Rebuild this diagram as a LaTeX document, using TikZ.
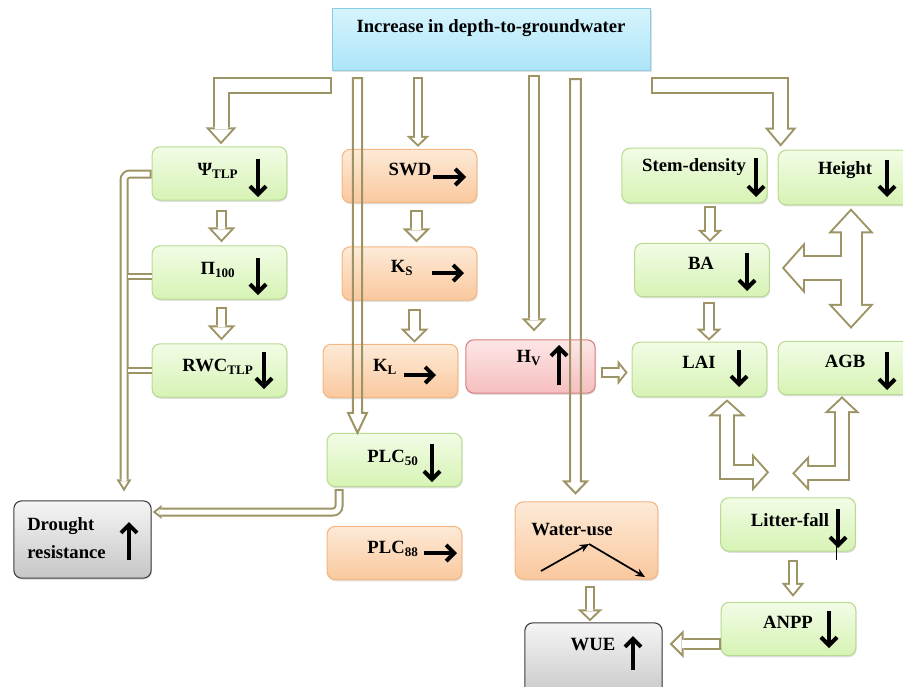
\documentclass[tikz,border=0pt]{standalone}
\usepackage{fontspec}
\setmainfont{Liberation Serif}
\usetikzlibrary{arrows.meta, calc, shadows, positioning}

\definecolor{acol}{RGB}{156,148,100}
\definecolor{gtop}{RGB}{242,252,230}
\definecolor{gbot}{RGB}{214,243,180}
\definecolor{gline}{RGB}{185,218,145}
\definecolor{otop}{RGB}{253,234,215}
\definecolor{obot}{RGB}{250,200,158}
\definecolor{oline}{RGB}{245,182,130}
\definecolor{ptop}{RGB}{253,230,230}
\definecolor{pbot}{RGB}{246,190,190}
\definecolor{pline}{RGB}{214,128,128}
\definecolor{ytop}{RGB}{245,245,245}
\definecolor{ybot}{RGB}{198,198,198}
\definecolor{yline}{RGB}{60,60,60}
\definecolor{btop}{RGB}{214,244,253}
\definecolor{bbot}{RGB}{172,229,248}
\definecolor{bline}{RGB}{140,205,230}

\def\hbw{1.5}
\tikzset{
  box/.style={rounded corners=6pt, minimum width=101pt, minimum height=40pt, inner sep=0pt, line width=0.8pt,
    drop shadow={shadow xshift=0.6pt, shadow yshift=-1.2pt, opacity=0.25}},
  gbox/.style={box, draw=gline, top color=gtop, bottom color=gbot},
  obox/.style={box, draw=oline, top color=otop, bottom color=obot},
  pbox/.style={box, draw=pline, top color=ptop, bottom color=pbot},
  ybox/.style={box, draw=yline, top color=ytop, bottom color=ybot},
  bbox/.style={box, rounded corners=0pt, draw=bline, top color=btop, bottom color=bbot},
  lbl/.style={font=\bfseries\fontsize{14}{16}\selectfont, inner sep=0pt},
  % hollow arrows: shaft, head length, head width (px)
  hset/.code n args={3}{%
    \pgfmathsetlengthmacro\hsw{0.75*#1}%
    \pgfmathsetlengthmacro\hhl{0.75*#2}%
    \pgfmathsetlengthmacro\hhw{0.75*#3}%
    \pgfmathsetlengthmacro\hsi{\hsw-2*\hbw}%
    \pgfmathsetlengthmacro\hd{\hbw/sin(atan(\hhw/(2*\hhl)))}%
    \pgfmathsetlengthmacro\hli{\hhl-\hbw-\hd}%
    \pgfmathsetlengthmacro\hwi{\hli*\hhw/\hhl}%
  },
  hout/.style={draw=acol, line width=\hsw, line join=miter,
    -{Triangle[length=\hhl, width=\hhw, line width=0pt]}},
  hin/.style={draw=white, line width=\hsi, line join=miter, shorten <=\hbw pt, shorten >=\hd,
    -{Triangle[length=\hli, width=\hwi, line width=0pt]}},
  houtd/.style={hout, {Triangle[length=\hhl, width=\hhw, line width=0pt]}-{Triangle[length=\hhl, width=\hhw, line width=0pt]}},
  hind/.style={hin, shorten <=\hd, {Triangle[length=\hli, width=\hwi, line width=0pt]}-{Triangle[length=\hli, width=\hwi, line width=0pt]}},
  harrow/.style n args={3}{hset={#1}{#2}{#3}, hout, postaction={hin}},
  harrows/.style n args={3}{hset={#1}{#2}{#3}, houtd, postaction={hind}},
  hbar/.style={hset={#1}{10}{10}, draw=acol, line width=\hsw, postaction={draw=white, line width=\hsi}},
  barline/.style={draw=acol, line width=1.5pt, line join=miter},
  % black trend arrows
  blk/.style={line width=3pt, -{Straight Barb[length=6pt, width=12pt]}},
  thinarr/.style={line width=1.3pt, -{Stealth[length=7pt, width=6pt]}},
}

\begin{document}
\begin{tikzpicture}[x=0.75pt, y=-0.75pt]
\clip (0,0) rectangle (903,686);

% Boxes
\node[bbox, minimum width=239pt, minimum height=46pt] (top) at (491.5,39.5) {};
\node[gbox] (psi) at (219.5,173.5) {};
\node[gbox] (pihun) at (219.5,272.5) {};
\node[gbox] (rwc) at (219.5,370.5) {};
\node[obox] (swd) at (409.5,176) {};
\node[obox] (ks) at (409.5,273.5) {};
\node[obox] (kl) at (390.5,371) {};
\node[pbox, minimum width=97pt] (hv) at (530.5,366.5) {};
\node[gbox] (plc50) at (394.5,460) {};
\node[obox] (plc88) at (394.5,553) {};
\node[ybox, minimum width=103pt, minimum height=58pt] (drought) at (82.5,539.5) {};
\node[obox, minimum width=107pt, minimum height=58pt] (wateruse) at (586.5,540.5) {};
\node[ybox, minimum width=103pt, minimum height=58pt] (wue) at (593.5,661.5) {};
\node[gbox, minimum width=109pt, minimum height=41pt] (stem) at (694.5,175.5) {};
\node[gbox, minimum height=41pt] (height) at (845.5,177.5) {};
\node[gbox] (ba) at (702,270) {};
\node[gbox, minimum height=41pt] (lai) at (699.5,369.5) {};
\node[gbox] (agb) at (845.5,368) {};
\node[gbox] (litter) at (788,524.5) {};
\node[gbox] (anpp) at (788.5,629) {};

% From the top box
\draw[harrow={17}{17}{31}] ($(top.south west)+(0,15)$) -| ($(psi.north)+(1.5,-2)$);
\draw[harrow={17}{19}{32}] ($(top.south east)+(0,15)$) -| ($(height.north west)+(3,-3)$);
\draw[harrow={10}{11}{23}] ($(swd.north)+(8.5,-72)$) -- ($(swd.north)+(8.5,-2)$);
\draw[harrow={12}{13}{25}] ($(hv.north)+(3.5,-264)$) -- ($(hv.north)+(3.5,-8)$);

% Left column
\draw[harrow={11}{15}{28}] ($(psi.south)+(2,9)$) -- ($(pihun.north)+(2,-3)$);
\draw[harrow={11}{15}{28}] ($(pihun.south)+(2,7)$) -- ($(rwc.north)+(2,-3)$);
\draw[harrow={9}{12}{15}, rounded corners=4.5pt] ($(psi.west)+(0,0.5)$) -| ($(drought.north)+(41.5,-9)$);
\draw[hbar=7] ($(pihun.west)+(-23.5,3.5)$) -- ($(pihun.west)+(0,3.5)$);
\draw[hbar=7] ($(rwc.west)+(-23.5,0)$) -- (rwc.west);

% Middle column
\draw[harrow={13}{14}{28}] ($(swd.south)+(7,7)$) -- ($(ks.north)+(7,-4)$);
\draw[harrow={13}{14}{28}] ($(ks.south)+(5,8)$) -- ($(ks.south)+(5,42)$);
\draw[harrow={9}{9}{14}, rounded corners=4.5pt] ($(plc50.south)+(-55.5,2)$) |- ($(drought.east)+(1,-27.5)$);
\draw[harrow={11}{10}{25}] ($(hv.east)+(5,6)$) -- ($(lai.west)+(-4,3)$);
\draw[harrow={10}{12}{25}] ($(wateruse.south)+(3.5,6)$) -- ($(wue.north)+(-3.5,-1)$);

% Right part
\draw[harrow={12}{12}{25}] ($(stem.south)+(15.5,3)$) -- ($(ba.north)+(8,-1)$);
\draw[harrow={12}{12}{25}] ($(ba.south)+(7,5)$) -- ($(lai.north)+(9.5,-1)$);
\draw[harrows={16}{17}{38}] ($(lai.south)+(27.5,2)$) |- ($(litter.north west)+(49,-25)$);
\draw[harrows={16}{17}{36}] ($(agb.south)+(-3.5,1)$) |- ($(litter.north west)+(72,-24)$);
\draw[harrow={10}{14}{23}] ($(litter.south)+(5,8)$) -- ($(anpp.north)+(4.5,-5)$);
\draw[harrow={12}{14}{28}] ($(anpp.west)+(0,15)$) -- ($(wue.east)+(7,-17.5)$);

% Height <-> AGB with branch to BA
\coordinate (tv1) at ($(height.south)+(5.5,3)$);
\coordinate (tv2) at ($(agb.north)+(5.5,-12)$);
\coordinate (tb) at ($(ba.east)+(12,-2)$);
\coordinate (tc) at (tv1 |- tb);
\draw[hset={23}{25}{46}, houtd] (tv1) -- (tv2);
\draw[hset={26}{23}{52}, hout] (tc) -- (tb);
\draw[hset={23}{25}{46}, hind] (tv1) -- (tv2);
\draw[hset={26}{23}{52}, hin, shorten <=0pt] (tc) -- (tb);

% Long bars over the boxes
\coordinate (barA) at (357.5,78);
\coordinate (barB) at (575.5,79);
\draw[barline] let \p1=(barA), \p2=(barA |- plc50.north) in
  (\x1-3.4pt,\y1) -- (\x1-3.4pt,\y2+15pt) -- (\x1-7.1pt,\y2+15pt) -- (\x1,\y2)
  -- (\x1+7.1pt,\y2+15pt) -- (\x1+3.4pt,\y2+15pt) -- (\x1+3.4pt,\y1) -- cycle;
\draw[barline] let \p1=(barB), \p2=($(barB |- wateruse.north)+(0,-8)$) in
  (\x1-4.1pt,\y1) -- (\x1-4.1pt,\y2+9pt) -- (\x1-8.6pt,\y2+9pt) -- (\x1,\y2)
  -- (\x1+8.6pt,\y2+9pt) -- (\x1+4.1pt,\y2+9pt) -- (\x1+4.1pt,\y1) -- cycle;

% Labels
\node[lbl] (toptxt) at (491,28) {Increase in depth-to-groundwater};
\node[lbl] (psitxt) at (218,171) {Ψ\textsubscript{TLP}};
\node[lbl] (pitxt) at (218,270) {Π\textsubscript{100}};
\node[lbl] (rwctxt) at (218,367) {RWC\textsubscript{TLP}};
\node[lbl] (swdtxt) at (410,169) {SWD};
\node[lbl] (kstxt) at (402,268) {K\textsubscript{S}};
\node[lbl] (kltxt) at (385,367) {K\textsubscript{L}};
\node[lbl] (hvtxt) at (529,358) {H\textsubscript{V}};
\node[lbl] (plc50txt) at (393,458) {PLC\textsubscript{50}};
\node[lbl] (plc88txt) at (393,549) {PLC\textsubscript{88}};
\node[lbl, align=left, anchor=west, font=\bfseries\fontsize{14}{21}\selectfont] (drtxt) at (27,538) {Drought\\resistance};
\node[lbl] (wutxt) at (572,530) {Water-use};
\node[lbl] (wuetxt) at (593,645) {WUE};
\node[lbl] (stemtxt) at (694,167) {Stem-density};
\node[lbl] (heighttxt) at (845,170) {Height};
\node[lbl] (batxt) at (701,263) {BA};
\node[lbl] (laitxt) at (699,362) {LAI};
\node[lbl] (agbtxt) at (845,361) {AGB};
\node[lbl] (littertxt) at (790,520) {Litter-fall};
\node[lbl] (anpptxt) at (788,622) {ANPP};

% Trend arrows
\draw[blk] (258,159) -- (258,197);
\draw[blk] (258,258) -- (258,295);
\draw[blk] (264,352) -- (264,389);
\draw[blk] (433,177) -- (466,177);
\draw[blk] (432,273) -- (464,273);
\draw[blk] (404,375) -- (436,375);
\draw[blk] (559,385) -- (559,345);
\draw[blk] (432,444) -- (432,482);
\draw[blk] (424,553) -- (457,553);
\draw[blk] (129,560) -- (129,522);
\draw[blk] (633,670) -- (633,636);
\draw[blk] (756,158) -- (756,197);
\draw[blk] (887,160) -- (887,197);
\draw[blk] (747,253) -- (747,291);
\draw[blk] (739,350) -- (739,387);
\draw[blk] (887,352) -- (887,390);
\draw[blk] (838,509) -- (838,548);
\draw[line width=0.6pt] (836,544) -- (836,560);
\draw[blk] (829,611) -- (829,648);
\draw[thinarr] (541,571) -- (589,544);
\draw[thinarr] (589,544) -- (645,577);
\end{tikzpicture}
\end{document}
